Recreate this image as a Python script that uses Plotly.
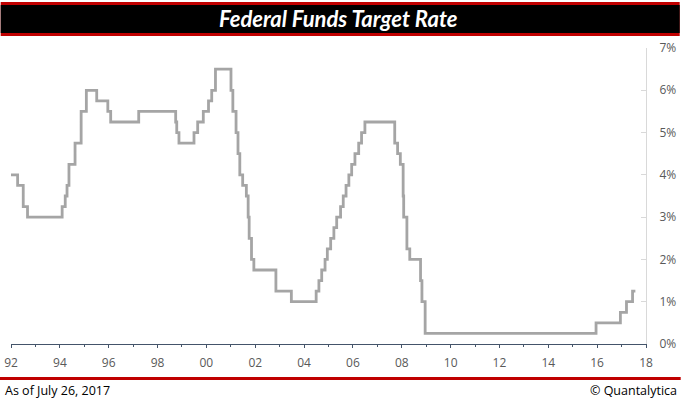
import plotly.graph_objects as go

# Federal funds target rate change dates (upper bound after Dec 2008)
change_dates = [
    "1992-01-01", "1992-04-09", "1992-07-02", "1992-09-04",
    "1994-02-04", "1994-03-22", "1994-04-18", "1994-05-17", "1994-08-16", "1994-11-15",
    "1995-02-01", "1995-07-06", "1995-12-19", "1996-01-31", "1997-03-25",
    "1998-09-29", "1998-10-15", "1998-11-17",
    "1999-06-30", "1999-08-24", "1999-11-16",
    "2000-02-02", "2000-03-21", "2000-05-16",
    "2001-01-03", "2001-01-31", "2001-03-20", "2001-04-18", "2001-05-15", "2001-06-27",
    "2001-08-21", "2001-09-17", "2001-10-02", "2001-11-06", "2001-12-11",
    "2002-11-06", "2003-06-25",
    "2004-06-30", "2004-08-10", "2004-09-21", "2004-11-10", "2004-12-14",
    "2005-02-02", "2005-03-22", "2005-05-03", "2005-06-30", "2005-08-09", "2005-09-20",
    "2005-11-01", "2005-12-13",
    "2006-01-31", "2006-03-28", "2006-05-10", "2006-06-29",
    "2007-09-18", "2007-10-31", "2007-12-11",
    "2008-01-22", "2008-01-30", "2008-03-18", "2008-04-30", "2008-10-08", "2008-10-29",
    "2008-12-16",
    "2015-12-16", "2016-12-14", "2017-03-15", "2017-06-14", "2017-07-26",
]
target_rate = [
    4.00, 3.75, 3.25, 3.00,
    3.25, 3.50, 3.75, 4.25, 4.75, 5.50,
    6.00, 5.75, 5.50, 5.25, 5.50,
    5.25, 5.00, 4.75,
    5.00, 5.25, 5.50,
    5.75, 6.00, 6.50,
    6.00, 5.50, 5.00, 4.50, 4.00, 3.75,
    3.50, 3.00, 2.50, 2.00, 1.75,
    1.25, 1.00,
    1.25, 1.50, 1.75, 2.00, 2.25,
    2.50, 2.75, 3.00, 3.25, 3.50, 3.75,
    4.00, 4.25,
    4.50, 4.75, 5.00, 5.25,
    4.75, 4.50, 4.25,
    3.50, 3.00, 2.25, 2.00, 1.50, 1.00,
    0.25,
    0.50, 0.75, 1.00, 1.25, 1.25,
]
y_tick_values = [0, 1, 2, 3, 4, 5, 6, 7]
y_tick_labels = ["0%", "1%", "2%", "3%", "4%", "5%", "6%", "7%"]

W, H = 681, 399
L, R, T, B = 11.3, 646.3, 48, 344  # plot area in pixels


def px(xp):
    return (xp - L) / (R - L)


def py(yp):
    return (B - yp) / (B - T)


fig = go.Figure()
fig.add_trace(go.Scatter(
    x=change_dates, y=target_rate, mode="lines", line_shape="hv",
    line=dict(color="#A5A5A5", width=2.8), hoverinfo="skip", showlegend=False,
))

tick_font = dict(family="Open Sans, Noto Sans, sans-serif", size=12, color="#595959")
axis_col = "#44546A"

fig.update_layout(
    width=W, height=H,
    margin=dict(l=L, r=W - R, t=T, b=H - B, pad=0, autoexpand=False),
    paper_bgcolor="white", plot_bgcolor="white",
    xaxis=dict(
        type="date", range=["1992-01-01", "2018-01-01"],
        tick0="1992-01-01", dtick="M24", tickformat="%y",
        ticks="outside", ticklen=3, tickwidth=1, tickcolor=axis_col,
        minor=dict(dtick="M12", ticks="outside", ticklen=2, tickwidth=1, tickcolor=axis_col),
        showline=True, linecolor=axis_col, linewidth=1,
        showgrid=False, zeroline=False, tickfont=tick_font,
        ticklabelstandoff=5, fixedrange=True, automargin=False,
    ),
    xaxis2=dict(
        type="date", overlaying="x", matches="x", anchor="y", side="bottom",
        range=["1992-01-01", "2018-01-01"],
        tick0="1992-01-01", dtick="M24", showticklabels=False,
        ticks="inside", ticklen=3, tickwidth=1, tickcolor=axis_col,
        minor=dict(dtick="M12", ticks="inside", ticklen=2, tickwidth=1, tickcolor=axis_col),
        showline=False, showgrid=False, zeroline=False, automargin=False,
    ),
    yaxis=dict(
        side="right", range=[0, 7], tickvals=y_tick_values, ticktext=y_tick_labels,
        ticks="inside", ticklen=5, tickwidth=1, tickcolor="#D9D9D9",
        showline=True, linecolor="#D9D9D9", linewidth=1,
        showgrid=False, zeroline=False, tickfont=tick_font,
        ticklabelstandoff=10, fixedrange=True, automargin=False,
    ),
    shapes=[
        dict(type="rect", xref="paper", yref="paper", x0=px(1), x1=px(680), y0=py(36), y1=py(2),
             fillcolor="#C00000", line=dict(width=0), layer="above"),
        dict(type="rect", xref="paper", yref="paper", x0=px(1), x1=px(680), y0=py(33), y1=py(5),
             fillcolor="#000000", line=dict(width=0), layer="above"),
        dict(type="rect", xref="paper", yref="paper", x0=px(0), x1=px(681), y0=py(380), y1=py(377),
             fillcolor="#C00000", line=dict(width=0), layer="above"),
    ],
    annotations=[
        dict(text="<b><i>Federal Funds Target Rate</i></b>", xref="paper", yref="paper",
             x=px(339), y=py(19), xanchor="center", yanchor="middle", showarrow=False,
             font=dict(family="Lato, Open Sans, sans-serif", size=22, color="white")),
        dict(text="As of July 26, 2017", xref="paper", yref="paper",
             x=px(3), y=py(390), xanchor="left", yanchor="middle", showarrow=False,
             font=dict(family="Open Sans, Noto Sans, sans-serif", size=12.5, color="#000000")),
        dict(text="© Quantalytica", xref="paper", yref="paper",
             x=px(679), y=py(390), xanchor="right", yanchor="middle", showarrow=False,
             font=dict(family="Open Sans, Noto Sans, sans-serif", size=12.5, color="#000000")),
    ],
)

fig.write_html(
    "out.html",
    config={"displayModeBar": False, "staticPlot": True},
    post_script="document.body.style.margin='0';document.body.style.padding='0';"
                "document.body.style.overflow='hidden';",
)
